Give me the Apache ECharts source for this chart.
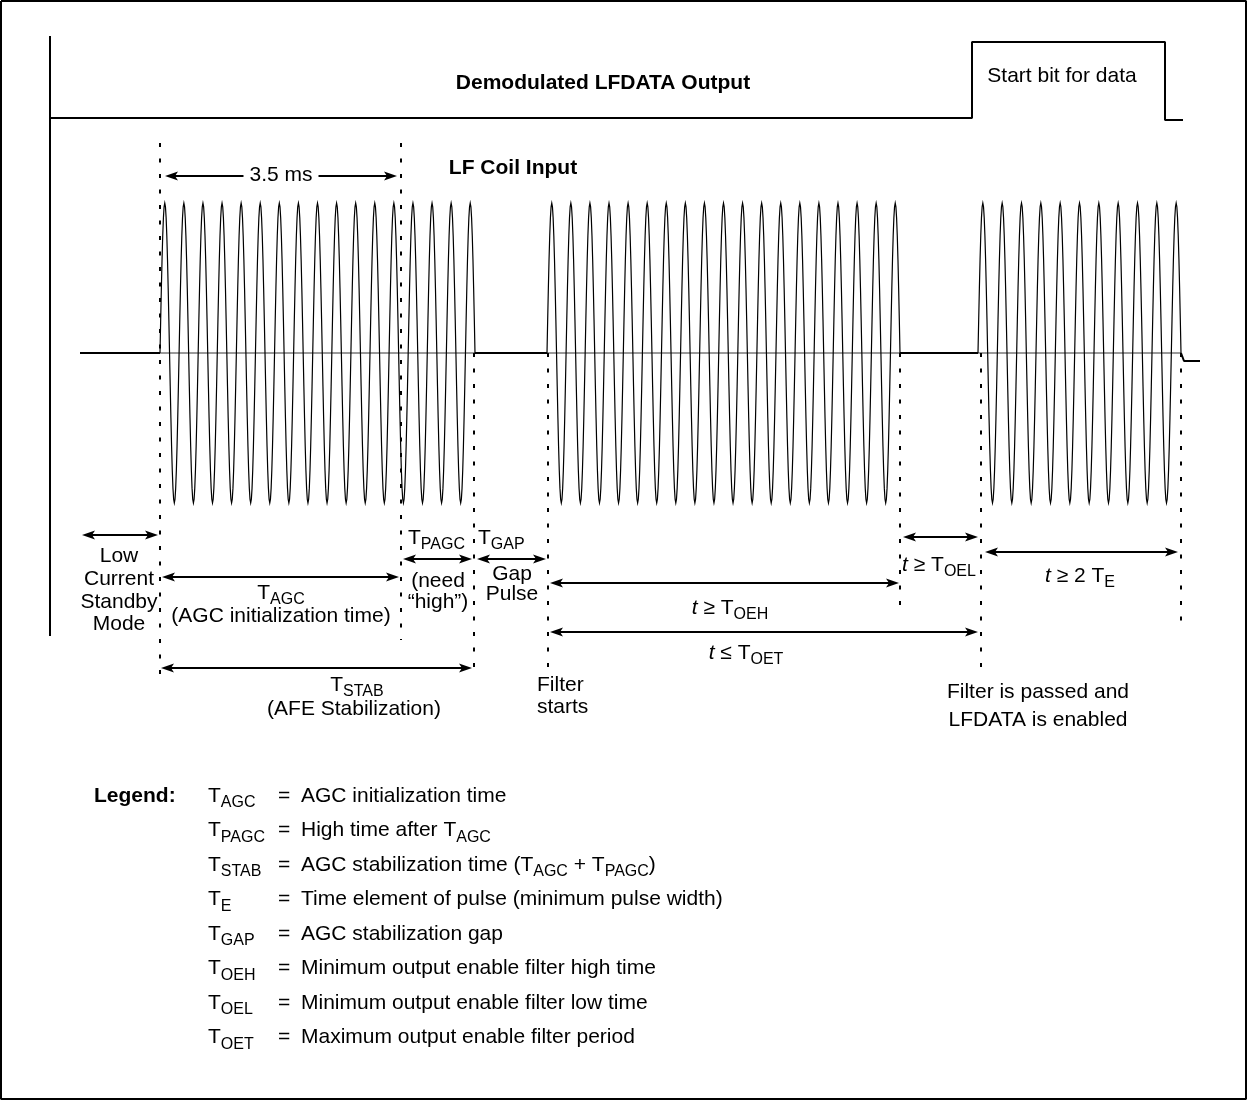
<!DOCTYPE html>
<html>
<head>
<meta charset="utf-8">
<script src="https://cdn.jsdelivr.net/npm/echarts@6/dist/echarts.min.js"></script>
<style>
html, body { margin: 0; padding: 0; background: #fff; }
#chart { width: 1248px; height: 1101px; }
</style>
</head>
<body>
<div id="chart"></div>
<script>
var FONT = '"Liberation Sans", Arial, sans-serif';

// diagram units = pixels of the figure (x right, y down)
var frame = [[1, 1], [1246, 1], [1246, 1099], [1, 1099], [1, 1]];
var leftRule = [[50, 36], [50, 636]];
var lfdata = [[50, 118], [972, 118], [972, 42], [1165, 42], [1165, 120], [1183, 120]];

// LF coil input
var coilBase = 353;
var coilAmp = 150;
var coilIdle = [[80, 160], [475, 547], [900, 978]];      // [from, to]
var coilBursts = [[160, 475, 16.5], [547, 900, 18.5], [978, 1181, 10.5]]; // [from, to, cycles]
var coilTail = [[1181, 353], [1184, 361], [1200, 361]];

// dotted time markers [x, yTop, yBottom]
var markers = [[160, 143, 680], [401, 143, 640], [474, 353, 668], [548, 353, 668],
               [900, 353, 612], [981, 353, 676], [1181, 353, 628]];

// dimension arrows [x1, x2, y]
var arrows = [
  [165, 397, 176],   // 3.5 ms
  [82, 158, 535],    // standby
  [162, 399, 577],   // TAGC
  [403, 472, 559],   // TPAGC
  [477, 546, 559],   // TGAP
  [550, 899, 583],   // TOEH
  [903, 978, 537],   // TOEL
  [985, 1178, 552],  // 2 TE
  [550, 978, 632],   // TOET
  [161, 472, 668]    // TSTAB
];

// text [x, y, text, align]
var labels = [
  [603, 83, '{b|Demodulated LFDATA Output}', 'center'],
  [1062, 76, 'Start bit for data', 'center'],
  [513, 168, '{b|LF Coil Input}', 'center'],
  [281, 175, '{w|3.5 ms}', 'center'],
  [119, 556, 'Low', 'center'],
  [119, 579, 'Current', 'center'],
  [119, 602, 'Standby', 'center'],
  [119, 624, 'Mode', 'center'],
  [281, 593, 'T{s|AGC}', 'center'],
  [281, 616, '(AGC initialization time)', 'center'],
  [408, 538, 'T{s|PAGC}', 'left'],
  [438, 581, '(need', 'center'],
  [438, 602, '\u201chigh\u201d)', 'center'],
  [478, 538, 'T{s|GAP}', 'left'],
  [512, 574, 'Gap', 'center'],
  [512, 594, 'Pulse', 'center'],
  [730, 608, '{i|t} \u2265 T{s|OEH}', 'center'],
  [939, 565, '{i|t} \u2265 T{s|OEL}', 'center'],
  [1080, 576, '{i|t} \u2265 2 T{s|E}', 'center'],
  [746, 653, '{i|t} \u2264 T{s|OET}', 'center'],
  [357, 685, 'T{s|STAB}', 'center'],
  [354, 709, '(AFE Stabilization)', 'center'],
  [537, 685, 'Filter', 'left'],
  [537, 707, 'starts', 'left'],
  [1038, 692, 'Filter is passed and', 'center'],
  [1038, 720, 'LFDATA is enabled', 'center']
];

// legend
var legendTitle = 'Legend:';
var legendSym = ['AGC', 'PAGC', 'STAB', 'E', 'GAP', 'OEH', 'OEL', 'OET'];
var legendDesc = [
  'AGC initialization time',
  'High time after T{s|AGC}',
  'AGC stabilization time (T{s|AGC} + T{s|PAGC})',
  'Time element of pulse (minimum pulse width)',
  'AGC stabilization gap',
  'Minimum output enable filter high time',
  'Minimum output enable filter low time',
  'Maximum output enable filter period'
];
var legendTop = 796, legendStep = 34.5;

legendSym.forEach(function (s, i) {
  var y = legendTop + i * legendStep;
  if (i === 0) labels.push([94, y, '{b|' + legendTitle + '}', 'left']);
  labels.push([208, y, 'T{s|' + s + '}', 'left']);
  labels.push([278, y, '=', 'left']);
  labels.push([301, y, legendDesc[i], 'left']);
});

var RICH = {
  b: { fontSize: 21, fontWeight: 'bold', fontFamily: FONT, lineHeight: 30 },
  s: { fontSize: 16, fontFamily: FONT, lineHeight: 16, verticalAlign: 'bottom' },
  i: { fontSize: 21, fontStyle: 'italic', fontFamily: FONT, lineHeight: 30 },
  w: { fontSize: 21, fontFamily: FONT, lineHeight: 30, backgroundColor: '#fff', padding: [0, 6] }
};

var myChart = echarts.init(document.getElementById('chart'));

function pathSeries(pts, w) {
  return {
    type: 'line', data: pts, showSymbol: false, silent: true,
    lineStyle: { color: '#000', width: w }
  };
}

option = {
  animation: false,
  backgroundColor: '#fff',
  grid: { left: 0, right: 0, top: 0, bottom: 0 },
  xAxis: { type: 'value', min: 0, max: 1248, show: false },
  yAxis: { type: 'value', min: 0, max: 1101, inverse: true, show: false },
  series: [
    pathSeries(frame, 2),
    pathSeries(leftRule, 2),
    pathSeries(lfdata, 2),
    // thin reference line through the bursts
    pathSeries([[160, coilBase], [1181, coilBase]], 0.8),
    {
      type: 'custom', silent: true,
      data: coilIdle.map(function (d) { return [d[0], d[1]]; }),
      renderItem: function (params, api) {
        var d = coilIdle[params.dataIndex];
        var a = api.coord([d[0], coilBase]), b = api.coord([d[1], coilBase]);
        return { type: 'line', shape: { x1: a[0], y1: a[1], x2: b[0], y2: b[1] },
                 style: { stroke: '#000', lineWidth: 2 } };
      }
    },
    pathSeries(coilTail, 2),
    {
      type: 'custom', silent: true,
      data: coilBursts.map(function (d) { return [d[0], d[1]]; }),
      renderItem: function (params, api) {
        var d = coilBursts[params.dataIndex];
        var n = Math.round(d[2] * 28);
        var pts = [];
        for (var k = 0; k <= n; k++) {
          var x = d[0] + (d[1] - d[0]) * k / n;
          var y = coilBase - coilAmp * Math.sin(2 * Math.PI * d[2] * k / n);
          pts.push(api.coord([x, y]));
        }
        return { type: 'polyline', shape: { points: pts },
                 style: { stroke: '#000', lineWidth: 1.2, fill: null } };
      }
    },
    {
      type: 'custom', silent: true,
      data: markers.map(function (d) { return [d[0], d[1]]; }),
      renderItem: function (params, api) {
        var d = markers[params.dataIndex];
        var a = api.coord([d[0], d[1]]), b = api.coord([d[0], d[2]]);
        return { type: 'line', shape: { x1: a[0], y1: a[1], x2: b[0], y2: b[1] },
                 style: { stroke: '#000', lineWidth: 2, lineDash: [4, 11.5] } };
      }
    },
    {
      type: 'custom', silent: true,
      data: arrows.map(function (d) { return [d[0], d[2]]; }),
      renderItem: function (params, api) {
        var d = arrows[params.dataIndex];
        var p1 = api.coord([d[0], d[2]]), p2 = api.coord([d[1], d[2]]);
        var L = 13, W = 4.5;
        return { type: 'group', children: [
          { type: 'line', shape: { x1: p1[0] + 6, y1: p1[1], x2: p2[0] - 6, y2: p2[1] },
            style: { stroke: '#000', lineWidth: 2 } },
          { type: 'polygon', shape: { points: [[p1[0], p1[1]], [p1[0] + L, p1[1] - W], [p1[0] + L - 3, p1[1]], [p1[0] + L, p1[1] + W]] },
            style: { fill: '#000' } },
          { type: 'polygon', shape: { points: [[p2[0], p2[1]], [p2[0] - L, p2[1] - W], [p2[0] - L + 3, p2[1]], [p2[0] - L, p2[1] + W]] },
            style: { fill: '#000' } }
        ] };
      }
    },
    {
      type: 'custom', silent: true, z: 10,
      data: labels.map(function (d) { return [d[0], d[1]]; }),
      renderItem: function (params, api) {
        var d = labels[params.dataIndex];
        var p = api.coord([d[0], d[1]]);
        return { type: 'text', x: p[0], y: p[1],
                 style: { text: d[2], fill: '#000', fontSize: 21, fontFamily: FONT, lineHeight: 30,
                          align: d[3], verticalAlign: 'middle', rich: RICH } };
      }
    }
  ]
};
myChart.setOption(option);
</script>
</body>
</html>
